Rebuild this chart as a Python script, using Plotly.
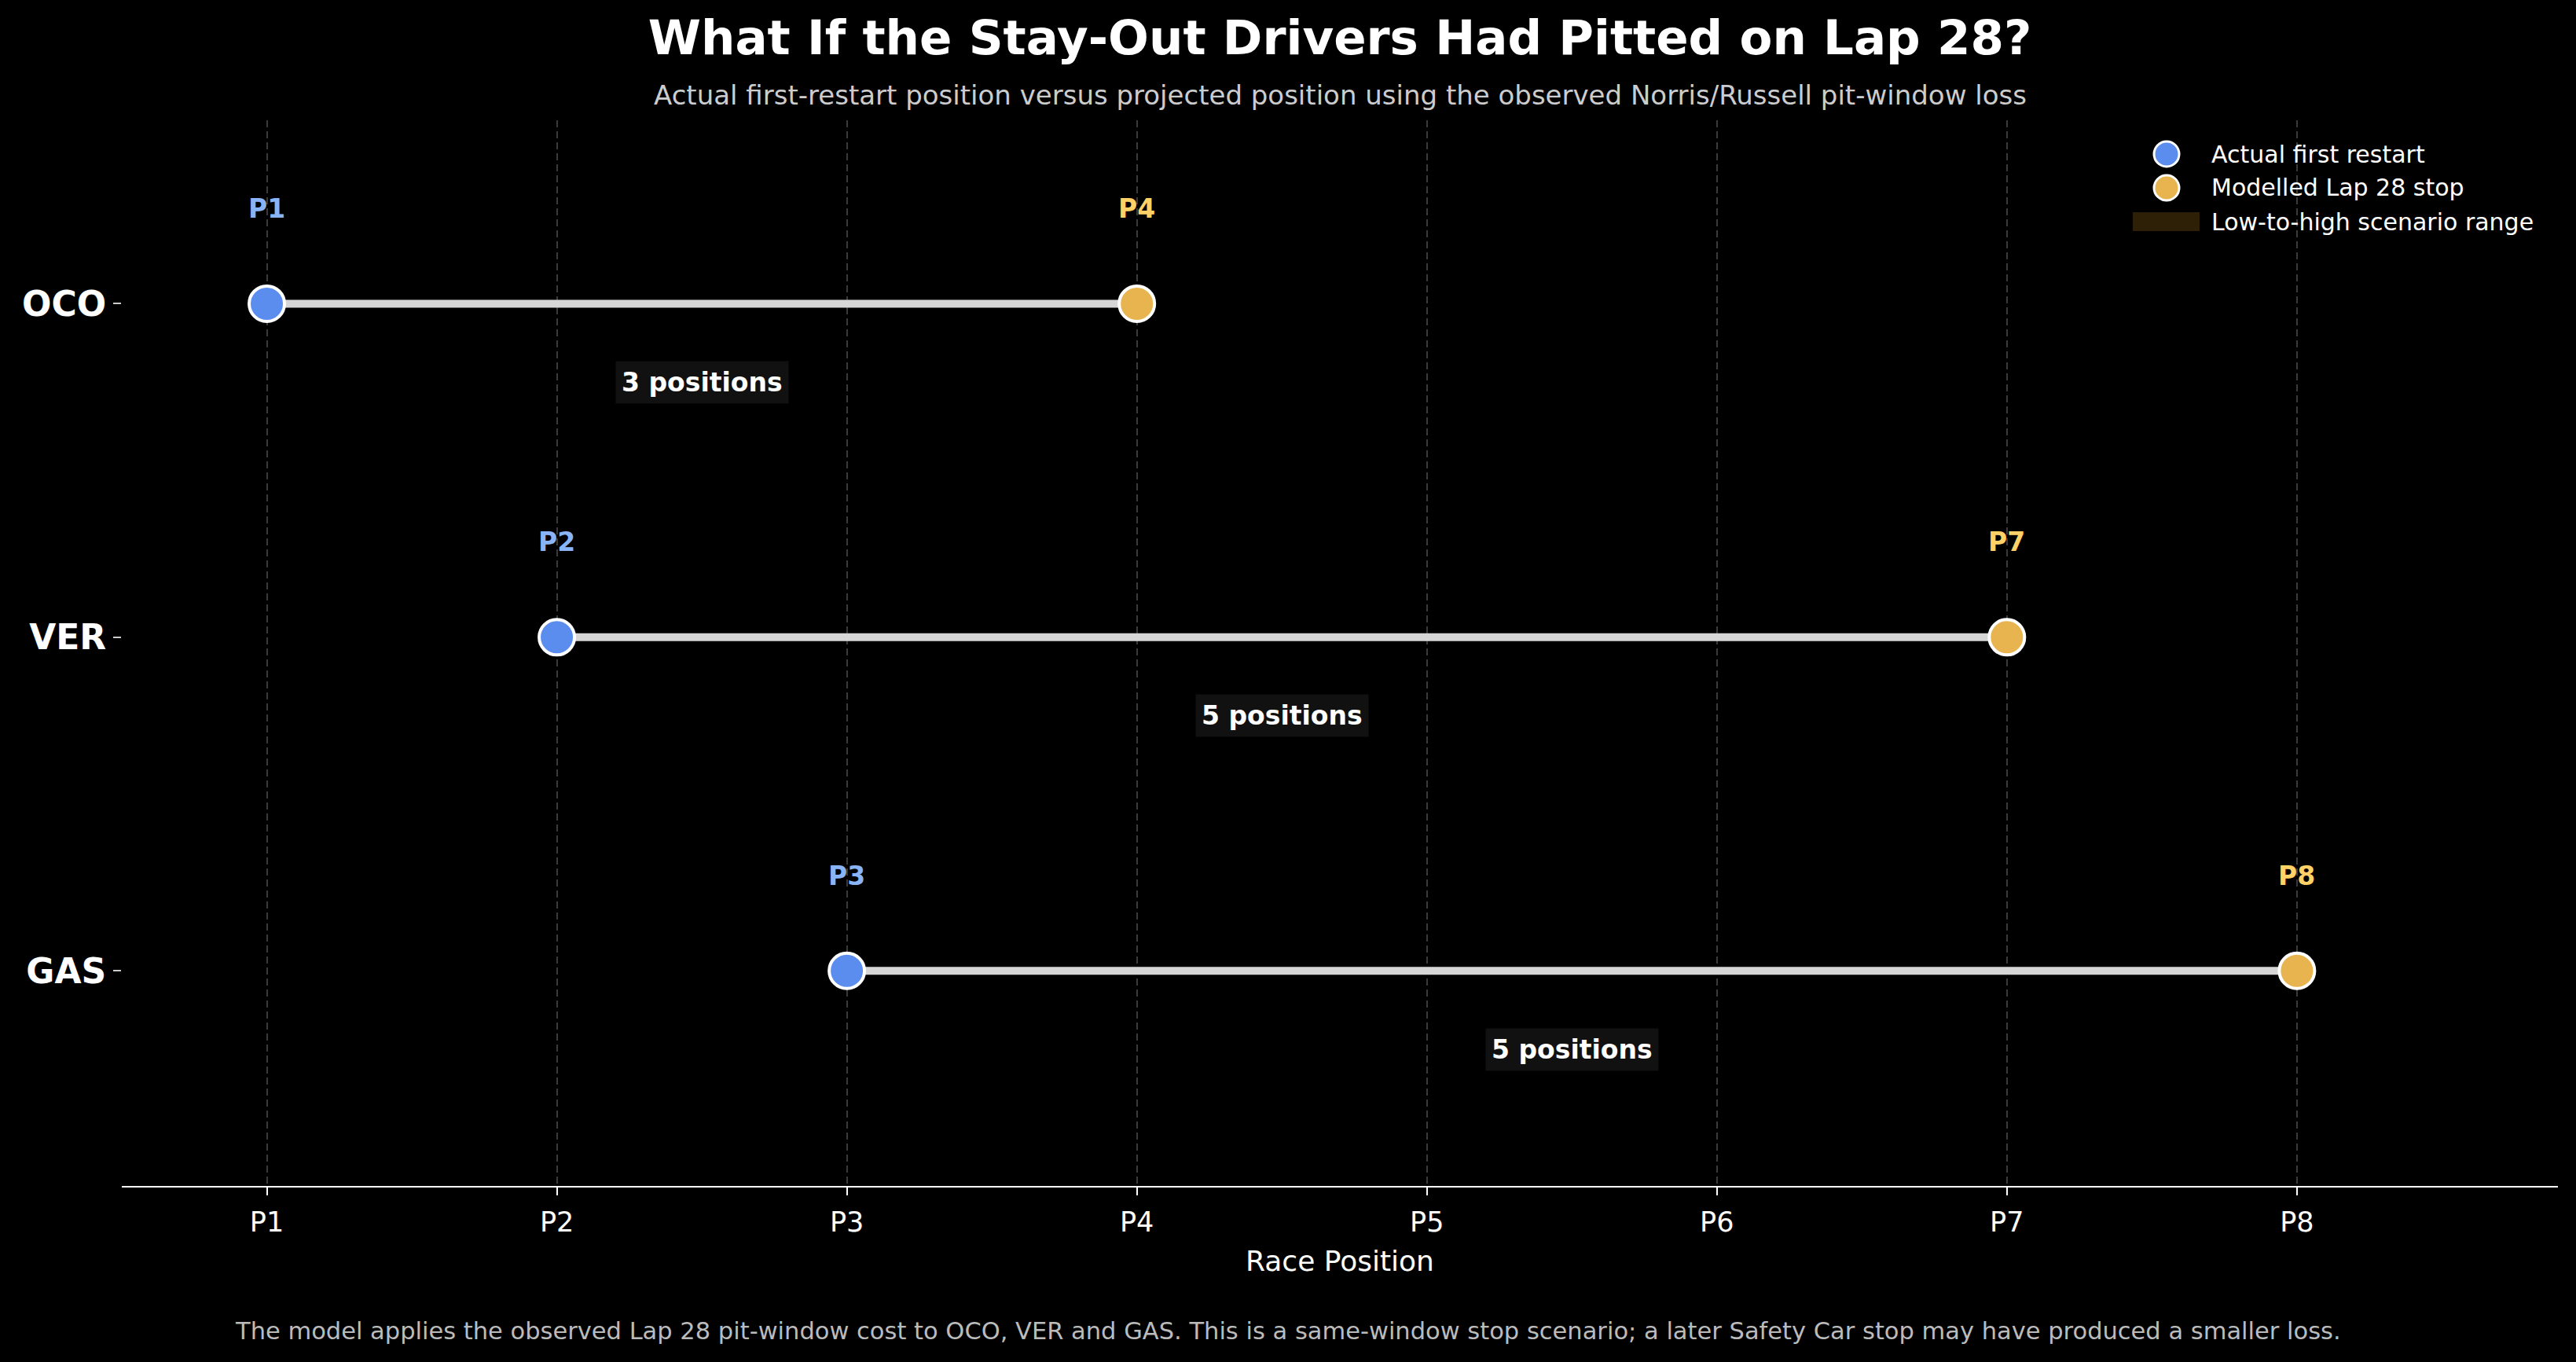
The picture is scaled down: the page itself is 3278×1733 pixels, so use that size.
import plotly.graph_objects as go

# stay-out drivers and positions
DRIVERS = ["OCO", "VER", "GAS"]
ACTUAL_POS = [1, 2, 3]        # actual first restart
MODELLED_POS = [4, 7, 8]      # modelled lap-28 stop
RANGE_LOW = [4, 7, 8]         # low-to-high scenario range (collapsed)
RANGE_HIGH = [4, 7, 8]
X_TICKS = [1, 2, 3, 4, 5, 6, 7, 8]
X_LABELS = ["P1", "P2", "P3", "P4", "P5", "P6", "P7", "P8"]
LEGEND_LABELS = ["Actual first restart", "Modelled Lap 28 stop", "Low-to-high scenario range"]

BLUE = "#5b8def"
GOLD = "#e8b44f"
BLUE_TXT = "#8ab4f8"
GOLD_TXT = "#ffd166"
BAND = "#2e2006"
FONT = "DejaVu Sans"

W, H = 3278, 1733
ML, MR, MT, MB = 155, 23, 153, 224
PW, PH = W - ML - MR, H - MT - MB


def px_x(px):
    return (px - ML) / PW


def px_y(py):
    return (H - MB - py) / PH


fig = go.Figure()
ys = list(range(len(DRIVERS)))

# connector lines
for i, d in enumerate(DRIVERS):
    fig.add_trace(go.Scatter(x=[ACTUAL_POS[i], MODELLED_POS[i]], y=[i, i], mode="lines",
                             line=dict(color="#d6d6d6", width=10), hoverinfo="skip"))

# scenario range bands (zero width here)
for i, d in enumerate(DRIVERS):
    lo, hi = RANGE_LOW[i], RANGE_HIGH[i]
    fig.add_trace(go.Scatter(x=[lo, hi, hi, lo, lo], y=[i - 0.06, i - 0.06, i + 0.06, i + 0.06, i - 0.06],
                             mode="lines", fill="toself", fillcolor=BAND,
                             line=dict(width=0, color=BAND), hoverinfo="skip"))

fig.add_trace(go.Scatter(x=ACTUAL_POS, y=ys, mode="markers", name=LEGEND_LABELS[0],
                         marker=dict(size=45, color=BLUE, line=dict(color="white", width=4))))
fig.add_trace(go.Scatter(x=MODELLED_POS, y=ys, mode="markers", name=LEGEND_LABELS[1],
                         marker=dict(size=45, color=GOLD, line=dict(color="white", width=4))))

ann = []
for i, d in enumerate(DRIVERS):
    a, m = ACTUAL_POS[i], MODELLED_POS[i]
    ann.append(dict(x=a, y=i, text=f"P{a}", showarrow=False, yshift=121,
                    font=dict(family=FONT, size=33, color=BLUE_TXT, weight="bold")))
    ann.append(dict(x=m, y=i, text=f"P{m}", showarrow=False, yshift=121,
                    font=dict(family=FONT, size=33, color=GOLD_TXT, weight="bold")))
    ann.append(dict(x=(a + m) / 2, y=i, text=f"{m - a} positions", showarrow=False, yshift=-100,
                    bgcolor="#111111", borderpad=7,
                    font=dict(family=FONT, size=33, color="white", weight="bold")))

ann.append(dict(xref="paper", yref="paper", x=0.5, y=px_y(121), yanchor="middle",
                text="Actual first-restart position versus projected position using the observed Norris/Russell pit-window loss",
                showarrow=False, font=dict(family=FONT, size=34, color="#cccccc")))
# footnote: anchored on the axis line, pushed down in pixels
ann.append(dict(xref="paper", yref="paper", x=px_x(W / 2), y=0, yanchor="middle",
                yshift=-(1693 - (H - MB)),
                text="The model applies the observed Lap 28 pit-window cost to OCO, VER and GAS. "
                     "This is a same-window stop scenario; a later Safety Car stop may have produced a smaller loss.",
                showarrow=False, font=dict(family=FONT, size=30.5, color="#bbbbbb")))

# hand-drawn legend (top right)
LEG_X, LEG_TX, LEG_Y = 2757, 2812, [196, 239, 282]
shapes = []
for k, col in enumerate([BLUE, GOLD]):
    shapes.append(dict(type="circle", xref="paper", yref="paper", xsizemode="pixel", ysizemode="pixel",
                       xanchor=px_x(LEG_X), yanchor=px_y(LEG_Y[k]), x0=-16, x1=16, y0=-16, y1=16,
                       fillcolor=col, line=dict(color="white", width=3)))
shapes.append(dict(type="rect", xref="paper", yref="paper", xsizemode="pixel", ysizemode="pixel",
                   xanchor=px_x(LEG_X), yanchor=px_y(LEG_Y[2]), x0=-43, x1=42, y0=-12, y1=12,
                   fillcolor=BAND, line=dict(width=0)))
for k, lab in enumerate(LEGEND_LABELS):
    ann.append(dict(xref="paper", yref="paper", x=px_x(LEG_TX), y=px_y(LEG_Y[k]), xanchor="left",
                    yanchor="middle", text=lab, showarrow=False,
                    font=dict(family=FONT, size=30, color="white")))

fig.update_layout(
    width=W, height=H,
    margin=dict(l=ML, r=MR, t=MT, b=MB),
    paper_bgcolor="black", plot_bgcolor="black",
    font=dict(family=FONT, color="white"),
    title=dict(text="What If the Stay-Out Drivers Had Pitted on Lap 28?", xref="paper", x=0.5,
               xanchor="center", yref="container", y=1 - 48 / H, yanchor="middle",
               font=dict(family=FONT, size=61, color="white", weight="bold")),
    annotations=ann,
    shapes=shapes,
    showlegend=False,
)
fig.update_xaxes(range=[0.5, 8.9], tickvals=X_TICKS, ticktext=X_LABELS,
                 showgrid=True, gridcolor="#3a3a3a", gridwidth=2, griddash="9px,5px",
                 zeroline=False, showline=True, linecolor="white", linewidth=2,
                 ticks="outside", ticklen=10, tickwidth=2, tickcolor="white",
                 ticklabelstandoff=4,
                 tickfont=dict(family=FONT, size=35, color="white"),
                 title=dict(text="Race Position", font=dict(family=FONT, size=36, color="white"),
                            standoff=18))
fig.update_yaxes(range=[2.645, -0.55], tickvals=ys, ticktext=DRIVERS,
                 showgrid=False, zeroline=False, showline=False,
                 ticks="outside", ticklen=10, tickwidth=2, tickcolor="#cccccc",
                 tickfont=dict(family=FONT, size=44, color="white", weight="bold"))

fig.write_html("out.html", config={"displayModeBar": False},
               post_script="document.body.style.margin='0';document.body.style.background='black';")
